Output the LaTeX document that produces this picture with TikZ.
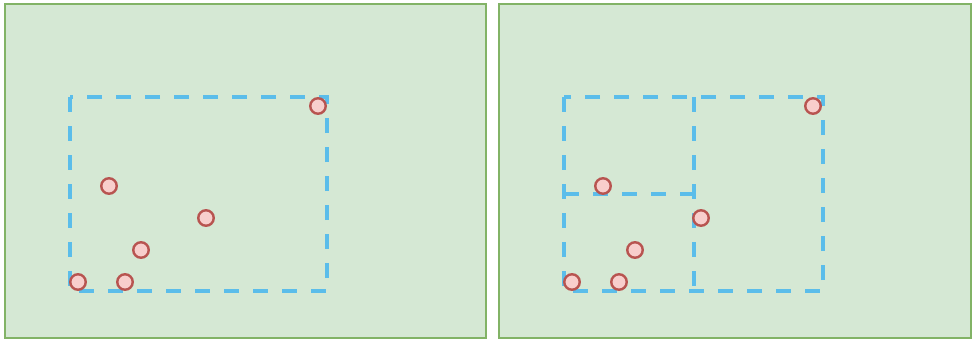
\documentclass[tikz,border=0pt]{standalone}
\definecolor{panelfill}{HTML}{D5E8D4}
\definecolor{paneldraw}{HTML}{82B366}
\definecolor{dashblue}{HTML}{5BBDEA}
\definecolor{ptfill}{HTML}{F8CECC}
\definecolor{ptdraw}{HTML}{B85450}
\begin{document}
\begin{tikzpicture}[x=1pt,y=-1pt,
  panel/.style={fill=panelfill,draw=paneldraw,line width=2.8pt},
  region/.style={draw=dashblue,line width=4pt,dash pattern=on 15pt off 14pt},
  pt/.style={circle,fill=ptfill,draw=ptdraw,line width=2.4pt,minimum size=15.5pt,inner sep=0pt}]
\useasboundingbox (0,0) rectangle (975,343);
% panels
\draw[panel] (5,4) rectangle (486,338);
\draw[panel] (499,4) rectangle (971,338);
% left panel: one bounding region
\draw[region] (70,97) rectangle (327,291);
\node[pt] (a1) at (78,282) {};
\node[pt] (a2) at (125,282) {};
\node[pt] (a3) at (141,250) {};
\node[pt] (a4) at (206,218) {};
\node[pt] (a5) at (109,186) {};
\node[pt] (a6) at (318,106) {};
% right panel: subdivided region
\draw[region] (564,97) rectangle (823,291);
\draw[region] (694,97) -- (694,291);
\draw[region] (564,194) -- (694,194);
\node[pt] (b1) at (572,282) {};
\node[pt] (b2) at (619,282) {};
\node[pt] (b3) at (635,250) {};
\node[pt] (b4) at (701,218) {};
\node[pt] (b5) at (603,186) {};
\node[pt] (b6) at (813,106) {};
\end{tikzpicture}
\end{document}
